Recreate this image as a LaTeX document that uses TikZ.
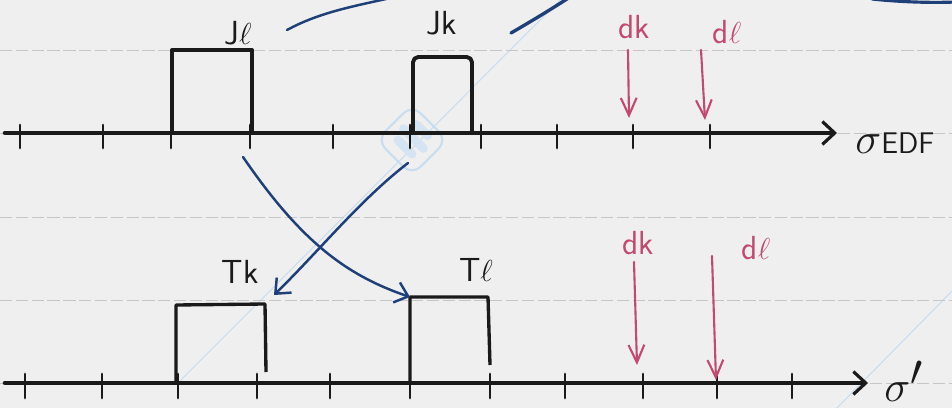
\documentclass[tikz,border=0pt]{standalone}
\usetikzlibrary{arrows.meta}
\definecolor{paper}{HTML}{EFEFEF}
\definecolor{ink}{HTML}{1A1A1A}
\definecolor{navy}{HTML}{1F3F78}
\definecolor{rose}{HTML}{C24A70}
\definecolor{wmblue}{HTML}{C9DDF0}
\begin{document}
\begin{tikzpicture}[x=0.02cm,y=-0.02cm,
  ruled/.style={gray!45, line width=0.5pt, dash pattern=on 7pt off 2pt},
  axis/.style={ink, line width=2.6pt, line cap=round, -{Straight Barb[length=7pt,width=13pt,line width=1.8pt]}},
  tick/.style={ink, line width=1.6pt, line cap=round},
  jobbox/.style={ink, line width=1.9pt, line join=round},
  swap/.style={navy, line width=1.4pt, line cap=round, -{Straight Barb[length=7pt,width=12pt,line width=1.4pt]}},
  stroke/.style={navy, line width=1.4pt, line cap=round},
  dead/.style={rose, line width=1.2pt, line cap=round, -{Straight Barb[length=10pt,width=9pt,line width=1.2pt]}},
  lbl/.style={ink, font=\fontsize{19}{22}\selectfont\sffamily, inner sep=0pt},
  dlbl/.style={rose, font=\fontsize{19}{22}\selectfont\sffamily, inner sep=0pt},
  wm/.style={wmblue, line width=0.6pt}]
\fill[paper] (0,0) rectangle (952,408);
\useasboundingbox (0,0) rectangle (952,408);
% watermark
\draw[wm] (178,383) -- (560,0);
\draw[wm] (835,410) -- (955,288);
\begin{scope}[rotate around={45:(412,140)}]
  \draw[wmblue, line width=1.2pt, rounded corners=7pt] (387,115) rectangle (437,165);
  \draw[wmblue!80, line width=5pt, line cap=round] (402,130) -- (402,150) (414,126) -- (414,154) (426,132) -- (426,148);
\end{scope}
% ruled lines
\foreach \y in {50,133,217,300,383} \draw[ruled] (0,\y) -- (952,\y);
% top axis
\coordinate (a1L) at (5,133);
\coordinate (a1R) at (837,133);
\draw[axis] (a1L) -- (a1R);
\foreach \x in {20,103,171,250,333,410,481,557,633,710} \draw[tick] (\x,125) -- (\x,148);
\node[anchor=west, ink, inner sep=0pt] (sedf) at (855,143) {\fontsize{32}{34}\selectfont$\sigma$\fontsize{17}{20}\selectfont\sffamily EDF};
% top jobs
\coordinate (Jl1) at (172,133); \coordinate (Jl2) at (172,50); \coordinate (Jl3) at (252,50); \coordinate (Jl4) at (252,133);
\draw[jobbox] (Jl1) -- (Jl2) -- (Jl3) -- (Jl4);
\node[lbl] (JlT) at (238,33) {J$\ell$};
\coordinate (Jk1) at (413,133); \coordinate (Jk2) at (413,57); \coordinate (Jk3) at (472,57); \coordinate (Jk4) at (472,133);
\draw[jobbox, line width=2.2pt, rounded corners=3pt] (Jk1) -- (Jk2) -- (Jk3) -- (Jk4);
\node[lbl] (JkT) at (442,23) {Jk};
% top deadlines
\node[dlbl] (dk1) at (634,27) {dk};
\node[dlbl] (dl1) at (727,32) {d$\ell$};
\coordinate (dk1s) at (628,50); \coordinate (dk1e) at (629,118);
\coordinate (dl1s) at (701,50); \coordinate (dl1e) at (705,120);
\draw[dead] (dk1s) -- (dk1e);
\draw[dead] (dl1s) -- (dl1e);
% partial strokes at the top edge
\coordinate (c1s) at (287,30); \coordinate (c1e) at (395,-3);
\draw[stroke] (c1s) .. controls (320,12) and (355,6) .. (c1e);
\coordinate (c2s) at (511,33); \coordinate (c2e) at (570,-3);
\draw[stroke, line width=1.9pt] (c2s) .. controls (530,22) and (550,10) .. (c2e);
\coordinate (c3s) at (872,-1); \coordinate (c3e) at (956,2);
\draw[stroke, line width=1.8pt] (c3s) .. controls (900,2) and (930,3) .. (c3e);
% bottom axis
\coordinate (a2L) at (5,383);
\coordinate (a2R) at (868,383);
\draw[axis] (a2L) -- (a2R);
\foreach \x in {25,102,178,257,330,410,490,565,643,717,792} \draw[tick] (\x,374) -- (\x,398);
\node[anchor=west, ink, inner sep=0pt] (sp) at (884,381) {\fontsize{42}{46}\selectfont$\sigma'$};
% bottom jobs
\coordinate (Tk1) at (176,383); \coordinate (Tk2) at (176,305); \coordinate (Tk3) at (265,304); \coordinate (Tk4) at (266,372);
\draw[jobbox] (Tk1) -- (Tk2) -- (Tk3) -- (Tk4);
\node[lbl] (TkT) at (240,272) {Tk};
\coordinate (Tl1) at (410,383); \coordinate (Tl2) at (410,297); \coordinate (Tl3) at (488,297); \coordinate (Tl4) at (490,365);
\draw[jobbox] (Tl1) -- (Tl2) -- (Tl3) -- (Tl4);
\node[lbl] (TlT) at (476,270) {T$\ell$};
% bottom deadlines
\node[dlbl] (dk2) at (638,243) {dk};
\node[dlbl] (dl2) at (756,248) {d$\ell$};
\coordinate (dk2s) at (634,262); \coordinate (dk2e) at (637,365);
\coordinate (dl2s) at (712,256); \coordinate (dl2e) at (716,380);
\draw[dead] (dk2s) -- (dk2e);
\draw[dead] (dl2s) -- (dl2e);
% swap arrows
\coordinate (m1s) at (243,157);
\coordinate (m2s) at (408,163);
\draw[swap] (m1s) .. controls (300,240) and (345,275) .. (Tl2);
\draw[swap] (m2s) .. controls (360,200) and (320,250) .. (274,295);
\end{tikzpicture}
\end{document}
